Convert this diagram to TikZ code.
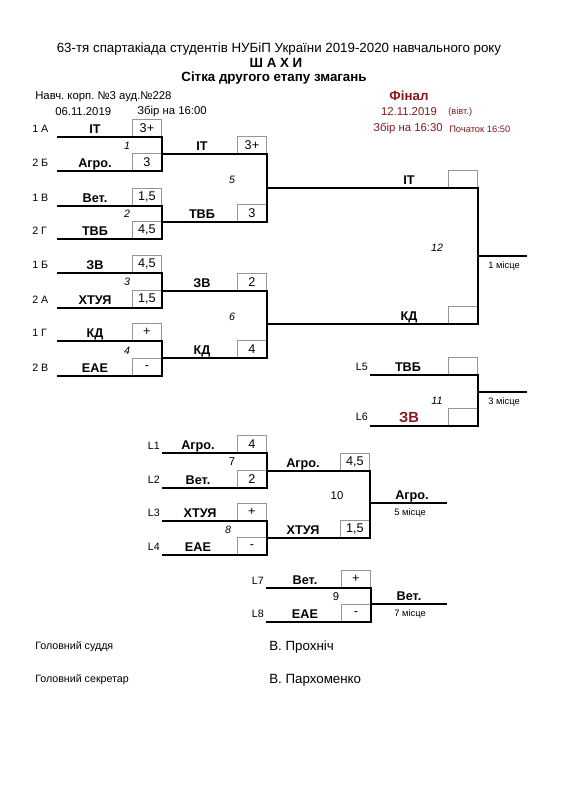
\documentclass[tikz,border=0pt]{standalone}
\usepackage{fontspec}
\setmainfont{Liberation Sans}
\frenchspacing
\definecolor{fin}{RGB}{135,25,30}
\definecolor{boxgray}{RGB}{150,150,150}
\newcommand{\slotrow}[7]{%
  \coordinate (#1L) at (#2,#4);
  \coordinate (#1R) at (#3,#4);
  \node[sbox, anchor=south east] (#1s) at (#1R) {#7};
  \node[team, anchor=base] (#1t) at (#5,#4-4) {#6};
}
\tikzset{
  bline/.style={line width=1.6pt, line join=miter},
  oline/.style={line width=1.2pt},
  sbox/.style={draw=boxgray, line width=0.6pt, minimum width=22pt, minimum height=12.75pt, inner sep=0pt, font=\fontsize{9.5}{11}\selectfont},
  team/.style={font=\fontsize{9.5}{11}\selectfont\bfseries, inner sep=0pt},
  lab/.style={font=\fontsize{8}{10}\selectfont, inner sep=0pt},
  mnum/.style={font=\fontsize{8}{10}\selectfont\itshape, inner sep=0pt},
  mnumup/.style={font=\fontsize{8.5}{10}\selectfont, inner sep=0pt},
  place/.style={font=\fontsize{7}{9}\selectfont, inner sep=0pt},
  plain/.style={inner sep=0pt}
}
\begin{document}
\begin{tikzpicture}[x=0.75pt,y=-0.75pt]
\useasboundingbox[fill=white] (0,0) rectangle (566,800);
% header
\node[plain, font=\fontsize{10}{12}\selectfont] (title) at (279,49) {63-тя спартакіада студентів НУБіП України 2019-2020 навчального року};
\node[plain, font=\fontsize{10}{12}\selectfont\bfseries] (sport) at (276,63) {Ш А Х И};
\node[plain, font=\fontsize{10}{12}\selectfont\bfseries] (sub) at (274,78) {Сітка другого етапу змагань};
\node[plain, font=\fontsize{8.5}{10}\selectfont, anchor=west] (place1) at (35,97) {Навч. корп. №3 ауд.№228};
\node[plain, font=\fontsize{8.5}{10}\selectfont, anchor=west] (date1) at (55,112) {06.11.2019};
\node[plain, font=\fontsize{8.5}{10}\selectfont, anchor=west] (time1) at (137,112) {Збір на 16:00};
\node[plain, font=\fontsize{10}{12}\selectfont\bfseries, text=fin] (final) at (409,96) {Фінал};
\node[plain, font=\fontsize{8.5}{10}\selectfont, text=fin] (date2) at (409,112) {12.11.2019};
\node[plain, font=\fontsize{7}{9}\selectfont, text=fin, anchor=west] (day2) at (448,112) {(вівт.)};
\node[plain, font=\fontsize{8.5}{10}\selectfont, text=fin, anchor=west] (time2) at (373,129) {Збір на 16:30};
\node[plain, font=\fontsize{7}{9}\selectfont, text=fin, anchor=west] (start2) at (449,129) {Початок 16:50};
% seed labels
\node[lab, anchor=west] (g1) at (32,129) {1 А};
\node[lab, anchor=west] (g2) at (32,163) {2 Б};
\node[lab, anchor=west] (g3) at (32,198) {1 В};
\node[lab, anchor=west] (g4) at (32,231) {2 Г};
\node[lab, anchor=west] (g5) at (32,265) {1 Б};
\node[lab, anchor=west] (g6) at (32,300) {2 А};
\node[lab, anchor=west] (g7) at (32,333) {1 Г};
\node[lab, anchor=west] (g8) at (32,368) {2 В};
% first round
\slotrow{r1}{57}{162}{137}{95}{IТ}{3+}
\slotrow{r2}{57}{162}{171}{95}{Агро.}{3}
\slotrow{r3}{57}{162}{206}{95}{Вет.}{1,5}
\slotrow{r4}{57}{162}{239}{95}{ТВБ}{4,5}
\slotrow{r5}{57}{162}{273}{95}{ЗВ}{4,5}
\slotrow{r6}{57}{162}{308}{95}{ХТУЯ}{1,5}
\slotrow{r7}{57}{162}{341}{95}{КД}{+}
\slotrow{r8}{57}{162}{376}{95}{ЕАЕ}{-}
\draw[bline] (r1L) -- (r1R) -- (r2R) -- (r2L);
\draw[bline] (r3L) -- (r3R) -- (r4R) -- (r4L);
\draw[bline] (r5L) -- (r5R) -- (r6R) -- (r6L);
\draw[bline] (r7L) -- (r7R) -- (r8R) -- (r8L);
\node[mnum] (n1) at (127,146) {1};
\node[mnum] (n2) at (127,214) {2};
\node[mnum] (n3) at (127,282) {3};
\node[mnum] (n4) at (127,351) {4};
% second round
\slotrow{m1}{162}{267}{154}{202}{IТ}{3+}
\slotrow{m2}{162}{267}{222}{202}{ТВБ}{3}
\slotrow{m3}{162}{267}{291}{202}{ЗВ}{2}
\slotrow{m4}{162}{267}{358}{202}{КД}{4}
\draw[bline] (m1L) -- (m1R) -- (m2R) -- (m2L);
\draw[bline] (m3L) -- (m3R) -- (m4R) -- (m4L);
\node[mnum] (n5) at (232,180) {5};
\node[mnum] (n6) at (232,317) {6};
% final
\slotrow{f1}{267}{478}{188}{409}{IТ}{}
\slotrow{f2}{267}{478}{324}{409}{КД}{}
\draw[bline] (f1L) -- (f1R) -- (f2R) -- (f2L);
\coordinate (o12a) at (478,256);
\coordinate (o12b) at (527,256);
\draw[oline] (o12a) -- (o12b);
\node[mnum] (n12) at (437,248) {12};
\node[place] (p1) at (504,266) {1 місце};
% third place
\node[lab, anchor=east] (gl5) at (368,367) {L5};
\node[lab, anchor=east] (gl6) at (368,417) {L6};
\slotrow{s5}{370}{478}{375}{408}{ТВБ}{}
\coordinate (s6L) at (370,426);
\coordinate (s6R) at (478,426);
\node[sbox, anchor=south east] (s6s) at (s6R) {};
\node[team, anchor=base, text=fin, font=\fontsize{11}{12}\selectfont\bfseries] (s6t) at (409,422) {ЗВ};
\draw[bline] (s5L) -- (s5R) -- (s6R) -- (s6L);
\coordinate (o11a) at (478,392);
\coordinate (o11b) at (527,392);
\draw[oline] (o11a) -- (o11b);
\node[mnum] (n11) at (437,401) {11};
\node[place] (p3) at (504,402) {3 місце};
% places 5-8
\node[lab, anchor=east] (gl1) at (160,446) {L1};
\node[lab, anchor=east] (gl2) at (160,480) {L2};
\node[lab, anchor=east] (gl3) at (160,513) {L3};
\node[lab, anchor=east] (gl4) at (160,547) {L4};
\slotrow{l1}{162}{267}{453}{198}{Агро.}{4}
\slotrow{l2}{162}{267}{488}{198}{Вет.}{2}
\slotrow{l3}{162}{267}{521}{200}{ХТУЯ}{+}
\slotrow{l4}{162}{267}{555}{198}{ЕАЕ}{-}
\draw[bline] (l1L) -- (l1R) -- (l2R) -- (l2L);
\draw[bline] (l3L) -- (l3R) -- (l4R) -- (l4L);
\node[mnumup] (n7) at (232,462) {7};
\node[mnum] (n8) at (228,530) {8};
\slotrow{k7}{267}{370}{471}{303}{Агро.}{4,5}
\slotrow{k8}{267}{370}{538}{303}{ХТУЯ}{1,5}
\draw[bline] (k7L) -- (k7R) -- (k8R) -- (k8L);
\node[mnumup] (n10) at (337,496) {10};
\coordinate (o10a) at (370,503);
\coordinate (o10b) at (447,503);
\draw[bline] (o10a) -- (o10b);
\node[team, anchor=base] (w10) at (412,499) {Агро.};
\node[place] (p5) at (410,513) {5 місце};
\node[lab, anchor=east] (gl7) at (264,581) {L7};
\node[lab, anchor=east] (gl8) at (264,614) {L8};
\slotrow{q7}{266}{371}{588}{305}{Вет.}{+}
\slotrow{q8}{266}{371}{622}{305}{ЕАЕ}{-}
\draw[bline] (q7L) -- (q7R) -- (q8R) -- (q8L);
\node[mnumup] (n9) at (336,597) {9};
\coordinate (o9a) at (371,604);
\coordinate (o9b) at (447,604);
\draw[bline] (o9a) -- (o9b);
\node[team, anchor=base] (w9) at (409,600) {Вет.};
\node[place] (p7) at (410,614) {7 місце};
% signatures
\node[plain, font=\fontsize{8}{10}\selectfont, anchor=west] (j1) at (35,647) {Головний суддя};
\node[plain, font=\fontsize{10}{12}\selectfont, anchor=west] (j2) at (269,647) {В. Прохніч};
\node[plain, font=\fontsize{8}{10}\selectfont, anchor=west] (s1) at (35,680) {Головний секретар};
\node[plain, font=\fontsize{10}{12}\selectfont, anchor=west] (s2) at (269,680) {В. Пархоменко};
\end{tikzpicture}
\end{document}
